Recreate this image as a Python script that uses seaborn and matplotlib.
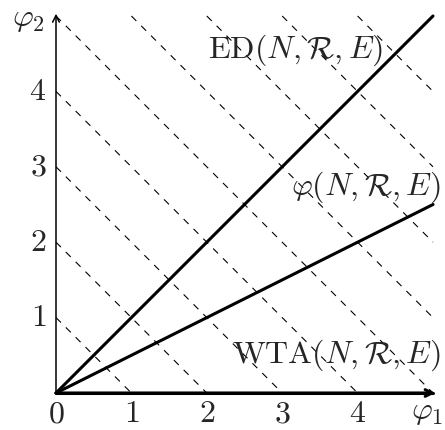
import matplotlib
matplotlib.use("Agg")
import matplotlib.pyplot as plt
import numpy as np
import pandas as pd
import seaborn as sns

# data
phi1 = [0, 5]
ed_line = [0, 5]
phi_line = [0, 2.5]
wta_line = [0, 0]
levels = [1, 2, 3, 4, 5, 6, 7, 8, 9]
x_ticks = [0, 1, 2, 3, 4]
y_ticks = [1, 2, 3, 4]

sns.set_style("white")
plt.rcParams["mathtext.fontset"] = "cm"
plt.rcParams["font.family"] = ["DejaVu Serif"]
plt.rcParams["lines.scale_dashes"] = False

fig = plt.figure(figsize=(4.45, 4.3), dpi=100)
ax = fig.add_axes([56 / 445, 37 / 430, 377 / 445, 377 / 430])
ax.set_xlim(0, 5)
ax.set_ylim(0, 5)
ax.axis("off")

# iso lines x + y = c, clipped to the box
for c in levels:
    xs = [max(0, c - 5), min(c, 5)]
    ys = [c - xs[0], c - xs[1]]
    ax.plot(xs, ys, color="black", lw=0.8, linestyle=(0, (5, 5)), clip_on=False)

lines = pd.DataFrame({
    "x": phi1 * 3,
    "y": ed_line + phi_line + wta_line,
    "rule": ["ED"] * 2 + ["phi"] * 2 + ["WTA"] * 2,
})
sns.lineplot(data=lines, x="x", y="y", units="rule", estimator=None,
             color="black", lw=2.2, ax=ax, legend=False, clip_on=False)

# axes arrows
ax.annotate("", xy=(5.03, 0), xytext=(0, 0), annotation_clip=False,
            arrowprops=dict(arrowstyle="->", lw=2.2, color="black",
                            shrinkA=0, shrinkB=0, mutation_scale=12))
ax.annotate("", xy=(0, 5.03), xytext=(0, 0), annotation_clip=False,
            arrowprops=dict(arrowstyle="->", lw=1.1, color="black",
                            shrinkA=0, shrinkB=0, mutation_scale=12))

fs = 23
for t in x_ticks:
    ax.text(t, -0.07, f"${t}$", ha="center", va="top", fontsize=fs)
for t in y_ticks:
    ax.text(-0.13, t, f"${t}$", ha="right", va="center", fontsize=fs)

ax.text(-0.36, 4.97, r"$\varphi_2$", ha="center", va="center", fontsize=fs)
ax.text(4.92, -0.25, r"$\varphi_1$", ha="center", va="center", fontsize=fs)

ax.text(3.18, 4.55, r"$\mathrm{ED}(N,\mathcal{R},E)$", ha="center", va="center", fontsize=fs)
ax.text(5.1, 2.73, r"$\varphi(N,\mathcal{R},E)$", ha="right", va="center", fontsize=fs)
ax.text(5.1, 0.5, r"$\mathrm{WTA}(N,\mathcal{R},E)$", ha="right", va="center", fontsize=fs)

fig.savefig("out.png", dpi=100)
